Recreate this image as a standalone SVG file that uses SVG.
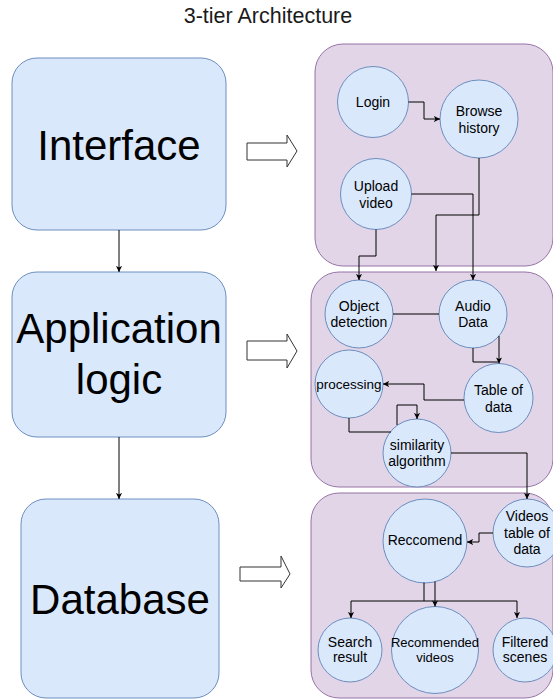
<svg xmlns="http://www.w3.org/2000/svg" width="553" height="700" viewBox="0 0 553 700">
<style>
text{font-family:"Liberation Sans",Arial,sans-serif;fill:#000;text-anchor:middle}
.box{fill:#dae8fc;stroke:#6c8ebf;stroke-width:1}
.panel{fill:#e1d5e7;stroke:#9673a6;stroke-width:1}
.c{fill:#dae8fc;stroke:#6c8ebf;stroke-width:1}
.big{font-size:42px}
.t{font-size:14px}
.ln{fill:none;stroke:#000;stroke-width:1}
.arr{marker-end:url(#ah)}
.blk{fill:#fff;stroke:#333;stroke-width:1}
</style>
<defs>
<marker id="ah" viewBox="0 0 8 8" refX="7" refY="4" markerWidth="7" markerHeight="7" markerUnits="userSpaceOnUse" orient="auto">
<path d="M0,0.5 L7,4 L0,7.5 L1.8,4 Z" fill="#000"/>
</marker>
</defs>
<rect width="553" height="700" fill="#fff"/>
<text x="268" y="23" style="font-size:21.5px;fill:#1a1a1a">3-tier Architecture</text>

<g id="panel-interface"><rect class="panel" x="315" y="44" width="238" height="222" rx="28"/></g>
<g id="panel-application"><rect class="panel" x="311" y="272" width="242" height="215" rx="28"/></g>
<g id="panel-database"><rect class="panel" x="311" y="493" width="242" height="205" rx="28"/></g>

<g id="interface"><rect class="box" x="12" y="58" width="214" height="172" rx="25"/><text class="big" x="119" y="160">Interface</text></g>
<g id="application-logic"><rect class="box" x="12" y="272" width="214" height="165" rx="25"/><text class="big" x="119" y="343">Application</text><text class="big" x="119" y="394">logic</text></g>
<g id="database"><rect class="box" x="21" y="499" width="198" height="199" rx="25"/><text class="big" x="120" y="614">Database</text></g>

<g id="block-arrow-1"><polygon class="blk" points="247,143 287,143 287,135 297,151 287,167 287,160 247,160"/></g>
<g id="block-arrow-2"><polygon class="blk" points="247,341 287,341 287,334 297,351 287,368 287,360 247,360"/></g>
<g id="block-arrow-3"><polygon class="blk" points="240,567 281,567 281,556 290,574 281,588 281,581 240,581"/></g>

<g id="login"><circle class="c" cx="373" cy="102" r="35.5"/><text class="t" x="373" y="107">Login</text></g>
<g id="browse-history"><circle class="c" cx="479" cy="119" r="39"/><text class="t" x="479" y="116">Browse</text><text class="t" x="479" y="133">history</text></g>
<g id="upload-video"><circle class="c" cx="376" cy="194" r="35.5"/><text class="t" x="376" y="191">Upload</text><text class="t" x="376" y="208">video</text></g>

<g id="object-detection"><circle class="c" cx="359" cy="314" r="34"/><text class="t" x="359" y="311">Object</text><text class="t" x="359" y="327">detection</text></g>
<g id="audio-data"><circle class="c" cx="473" cy="314" r="34"/><text class="t" x="473" y="311">Audio</text><text class="t" x="473" y="327">Data</text></g>
<g id="processing"><circle class="c" cx="349" cy="384" r="34"/><text class="t" x="349" y="389" style="font-size:13.5px">processing</text></g>
<g id="table-of-data"><circle class="c" cx="498.5" cy="398" r="34.5"/><text class="t" x="498.5" y="395">Table of</text><text class="t" x="498.5" y="412">data</text></g>
<g id="similarity-algorithm"><circle class="c" cx="417" cy="453" r="34"/><text class="t" x="417" y="450">similarity</text><text class="t" x="417" y="466">algorithm</text></g>

<g id="videos-table-of-data"><circle class="c" cx="527" cy="533" r="34"/><text class="t" x="527" y="521">Videos</text><text class="t" x="527" y="538">table of</text><text class="t" x="527" y="554">data</text></g>
<g id="reccomend"><circle class="c" cx="425" cy="541" r="42"/><text class="t" x="425" y="545">Reccomend</text></g>
<g id="search-result"><circle class="c" cx="350" cy="650" r="32"/><text class="t" x="350" y="647">Search</text><text class="t" x="350" y="662">result</text></g>
<g id="recommended-videos"><circle class="c" cx="435" cy="650" r="43.5"/><text class="t" x="435" y="647" style="font-size:13px">Recommended</text><text class="t" x="435" y="662" style="font-size:13px">videos</text></g>
<g id="filtered-scenes"><circle class="c" cx="525" cy="650" r="32"/><text class="t" x="525" y="647">Filtered</text><text class="t" x="525" y="662">scenes</text></g>

<g id="connectors">
<path class="ln arr" d="M119,230 V272"/>
<path class="ln arr" d="M119,437 V499"/>
<path class="ln arr" d="M408.5,102 H424 V119 H440"/>
<path class="ln arr" d="M479,158 V215 H436 V271"/>
<path class="ln arr" d="M411.5,194 H473 V280"/>
<path class="ln arr" d="M376,229.5 V256 H359 V280"/>
<path class="ln" d="M393,314 H439"/>
<path class="ln" d="M473,348 V362 H498"/>
<path class="ln arr" d="M499,336 V363.5"/>
<path class="ln arr" d="M464,400 H424 V384 H383"/>
<path class="ln" d="M349,418 V432 H391"/>
<path class="ln arr" d="M397,425 V405 H417 V419"/>
<path class="ln arr" d="M451,453 H527 V499"/>
<path class="ln arr" d="M493,533 H479 V542 H467"/>
<path class="ln" d="M424,582.5 V601"/>
<path class="ln arr" d="M435,581.5 V606.5"/>
<path class="ln arr" d="M424,601 H351 V618"/>
<path class="ln arr" d="M424,601 H517 V618"/>
</g>
</svg>
